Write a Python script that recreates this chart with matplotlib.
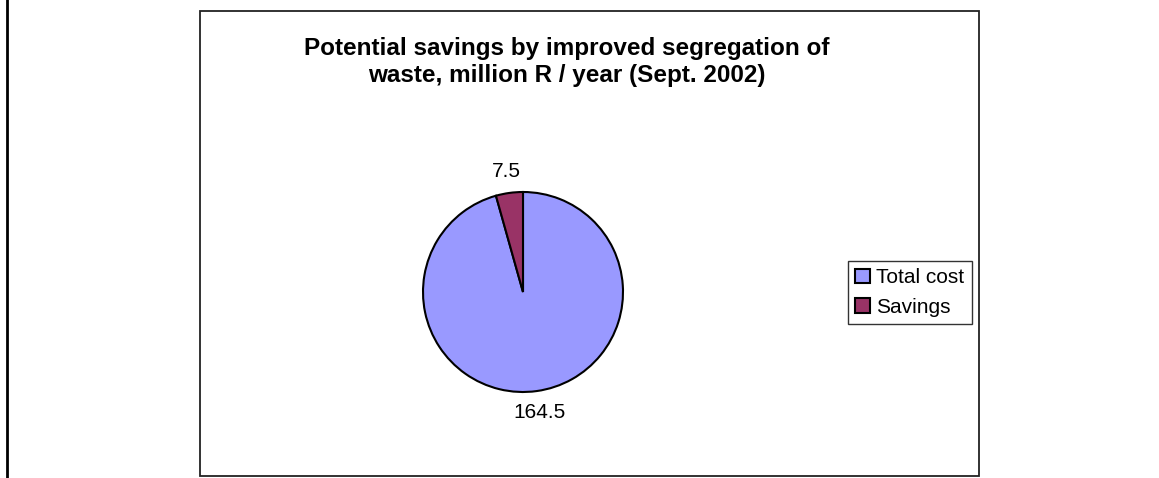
import matplotlib.pyplot as plt
from matplotlib.patches import Rectangle
from matplotlib.lines import Line2D

categorias = ["Total cost", "Savings"]
valores = [164.5, 7.5]
colores = ["#9999FF", "#993366"]
titulo = "Potential savings by improved segregation of\nwaste, million R / year (Sept. 2002)"

plt.rcParams['font.family'] = ['Liberation Sans', 'DejaVu Sans']

W, H = 1159, 478
fig = plt.figure(figsize=(W / 100, H / 100), dpi=100)

# marco del grafico y linea de la izquierda
fig.patches.append(Rectangle((200 / W, 1 - 476 / H), 779 / W, 465 / H,
                             transform=fig.transFigure, fill=False,
                             edgecolor="#222222", linewidth=1.3))
fig.lines.append(Line2D([7 / W, 7 / W], [0, 1], transform=fig.transFigure,
                        color="black", linewidth=2))

# pie: centro (523, 292), radio 100 px
cx, cy, r = 523, 292, 100
ax = fig.add_axes([(cx - r) / W, (H - cy - r) / H, 2 * r / W, 2 * r / H])
total = sum(valores)
wedges, textos, autotextos = ax.pie(
    valores, colors=colores, startangle=90, counterclock=False,
    wedgeprops=dict(edgecolor="black", linewidth=1.5),
    autopct=lambda p: f"{p * total / 100:.1f}", pctdistance=1.22,
    textprops=dict(fontsize=15))
ax.set_xlim(-1, 1)
ax.set_ylim(-1, 1)
ax.set_aspect("equal")
ax.axis("off")

fig.text(567 / W, 1 - 62 / H, titulo, ha="center", va="center",
         fontsize=17.5, fontweight="bold", linespacing=1.2)

leg = fig.legend(wedges, categorias, loc="upper left",
                 bbox_to_anchor=(848 / W, 1 - 261 / H),
                 frameon=True, fancybox=False, fontsize=15,
                 handlelength=0.7, handleheight=0.7, handletextpad=0.3,
                 labelspacing=0.5, borderpad=0.35, borderaxespad=0)
leg.get_frame().set_edgecolor("black")
leg.get_frame().set_linewidth(1)
for h in leg.legend_handles:
    h.set_edgecolor("black")
    h.set_linewidth(1.5)

fig.savefig("out.png", dpi=100, facecolor="white")
